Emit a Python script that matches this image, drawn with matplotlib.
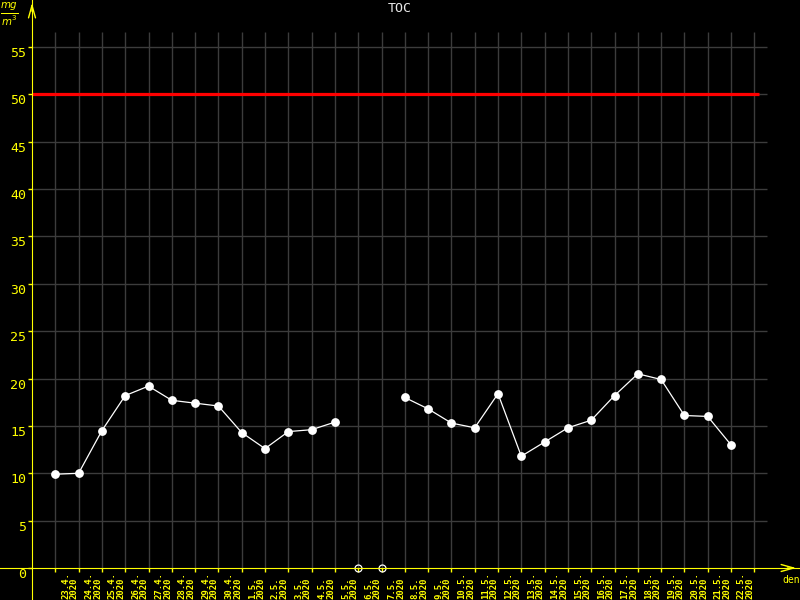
import matplotlib
matplotlib.use('Agg')
import matplotlib.pyplot as plt
import numpy as np

# data
dates = ['23.4.', '24.4.', '25.4.', '26.4.', '27.4.', '28.4.', '29.4.', '30.4.',
         '1.5.', '2.5.', '3.5.', '4.5.', '5.5.', '6.5.', '7.5.', '8.5.', '9.5.',
         '10.5.', '11.5.', '12.5.', '13.5.', '14.5.', '15.5.', '16.5.', '17.5.',
         '18.5.', '19.5.', '20.5.', '21.5.', '22.5.']
year = '2020'
toc = [9.9, 10.0, 14.5, 18.2, 19.2, 17.7, 17.4, 17.1, 14.3, 12.6, 14.4, 14.6, 15.4,
       None, None,
       18.0, 16.8, 15.3, 14.8, 18.4, 11.8, 13.3, 14.8, 15.6, 18.2, 20.5, 19.9,
       16.1, 16.0, 13.0]
limit = 50
y_ticks = list(range(0, 60, 5))

YEL = '#ffff00'
GRID = '#3c3c3c'
MONO = 'DejaVu Sans Mono'

x = np.arange(len(dates))
y = np.array([np.nan if v is None else v for v in toc])

fig = plt.figure(figsize=(8, 6), dpi=100, facecolor='black')
ax = fig.add_axes([0, 0, 1, 1], facecolor='black')

# pixel layout: y axis at x=32px, x axis at y=568px
px_x = 23.3
px_y = 9.473
ax.set_xlim(-1 - 32 / px_x, -1 + 768 / px_x)
ax.set_ylim(-32 / px_y, 568 / px_y)

# grid
ax.vlines(np.arange(len(dates) + 1), 0, 56.6, color=GRID, lw=1, zorder=1)
ax.hlines(y_ticks[1:], -1, 30.55, color=GRID, lw=1, zorder=1)

# limit line
ax.hlines(limit, -1, 30.2, color='#ff0000', lw=2.3, zorder=2)

# data
ax.plot(x, y, color='white', lw=0.9, marker='o', ms=5.3, mfc='white', mec='white', zorder=4)
miss = x[np.isnan(y)]
ax.plot(miss, np.zeros(len(miss)), 'o', ms=5, mfc='none', mec='white', mew=0.9, zorder=5)

# axes
for s in ['top', 'right']:
    ax.spines[s].set_visible(False)
ax.spines['left'].set_position(('data', -1))
ax.spines['bottom'].set_position(('data', 0))
ax.spines['left'].set_color(YEL)
ax.spines['bottom'].set_color(YEL)
ax.spines['left'].set_zorder(6)
ax.spines['bottom'].set_zorder(6)

ax.set_yticks(y_ticks)
ax.set_yticklabels([str(v) for v in y_ticks], fontsize=9.5, family=MONO)
for lbl in ax.get_yticklabels():
    lbl.set_verticalalignment('top')
ax.set_xticks(np.arange(len(dates) + 1))
ax.set_xticklabels([])
ax.tick_params(axis='both', colors=YEL, length=3, width=1, direction='out')
ax.tick_params(axis='y', pad=1)

for i, d in enumerate(dates):
    ax.annotate(d + '\n' + year, xy=(i, 0), xytext=(6, -31), textcoords='offset pixels',
                rotation=90, ha='left', va='bottom', ma='left', color=YEL,
                fontsize=6.5, fontweight='bold', family=MONO, linespacing=0.95)

# axis arrows
ax.annotate('', xy=(-1, 568 / px_y), xytext=(-1, 554 / px_y),
            arrowprops=dict(arrowstyle='->,head_length=0.9,head_width=0.25', color=YEL, lw=1))
ax.annotate('', xy=(31.92, 0), xytext=(31.3, 0),
            arrowprops=dict(arrowstyle='->,head_length=0.9,head_width=0.25', color=YEL, lw=1))

fig.text(9 / 800, 1 - 14 / 600, r'$\frac{mg}{m^3}$', color=YEL, fontsize=10.5,
         ha='center', va='center')
fig.text(0.5, 1 - 8 / 600, 'TOC', color='#e8e8e8', fontsize=9.5, family=MONO,
         ha='center', va='center')
fig.text(791 / 800, 1 - 580 / 600, 'den', color=YEL, fontsize=7, family=MONO,
         ha='center', va='center')

fig.savefig('out.png', dpi=100, facecolor='black')
